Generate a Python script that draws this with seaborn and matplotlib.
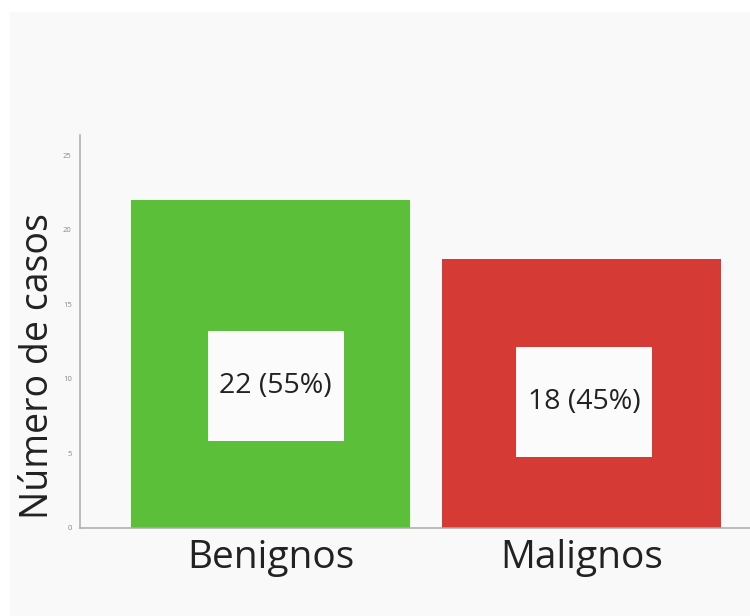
import matplotlib
matplotlib.use("Agg")
import matplotlib.pyplot as plt
import matplotlib.patches as mpatches
import seaborn as sns
import pandas as pd

categories = ["Benignos", "Malignos"]
counts = [22, 18]
percents = [55, 45]
colors = ["#5cbf39", "#d63a34"]

# layout constants (not data)
box_center_y = [9.5, 8.45]
box_dx = [0.017, 0.008]
box_w, box_h = 0.437, 7.35

sns.set_theme(style="white")
plt.rcParams["font.family"] = ["Open Sans", "DejaVu Sans"]

df = pd.DataFrame({"cat": categories, "n": counts})

fig = plt.figure(figsize=(7.5, 6.16), dpi=100, facecolor="white")
fig.patches.append(mpatches.Rectangle((10 / 750, 0), 1, 1 - 12 / 616,
                                      transform=fig.transFigure,
                                      facecolor="#f9f9f9", edgecolor="none", zorder=-10))
ax = fig.add_axes([80 / 750, (616 - 527.7) / 616, 670 / 750, (527.7 - 135) / 616])
ax.set_facecolor("none")

sns.barplot(data=df, x="cat", y="n", hue="cat", palette=colors, saturation=1,
            width=0.897, legend=False, ax=ax, edgecolor="none")

ax.set_xlim(-0.6125, 1.542)
ax.set_ylim(0, 26.35)
ax.set_yticks([0, 5, 10, 15, 20, 25])
ax.tick_params(axis="y", labelsize=5.5, labelcolor="#888888", length=0, pad=6)
ax.tick_params(axis="x", labelsize=28, labelcolor="#222222", length=0, pad=8)
ax.set_xlabel("")
ax.set_ylabel("")

for s in ["top", "right"]:
    ax.spines[s].set_visible(False)
for s in ["left", "bottom"]:
    ax.spines[s].set_color("#aaaaaa")
    ax.spines[s].set_linewidth(1.1)

for i, (n, p) in enumerate(zip(counts, percents)):
    cx = i + box_dx[i]
    ax.add_patch(mpatches.Rectangle((cx - box_w / 2, box_center_y[i] - box_h / 2), box_w, box_h,
                                    facecolor="#fbfbfb", edgecolor="none", zorder=3))
    ax.text(cx, box_center_y[i], f"{n} ({p}%)", ha="center", va="center",
            fontsize=20.5, color="#222222", zorder=4)

fig.text(38 / 750, 1 - 366 / 616, "Número de casos", rotation=90, ha="center", va="center",
         fontsize=27, color="#222222")

fig.savefig("out.png", dpi=100, facecolor=fig.get_facecolor())
